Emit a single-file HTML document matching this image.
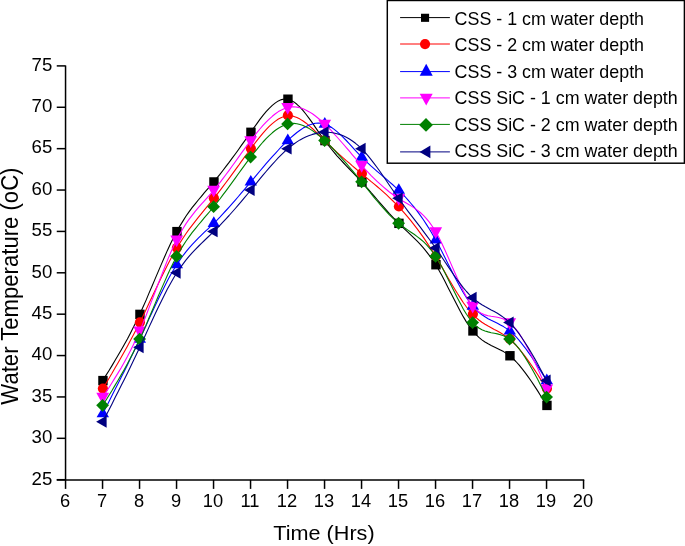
<!DOCTYPE html>
<html><head><meta charset="utf-8"><title>Water Temperature vs Time</title>
<style>
html,body{margin:0;padding:0;background:#fff;}
body{width:685px;height:546px;overflow:hidden;}
svg{display:block;}
text{font-family:"Liberation Sans",sans-serif;fill:#000;}
.tk{font-size:17.6px;}
.lg{font-size:18.6px;}
.tx{font-size:20.3px;}
.ty{font-size:23px;}
</style></head><body>
<svg width="685" height="546" viewBox="0 0 685 546">
<rect width="685" height="546" fill="#fff"/>
<g stroke="#000" stroke-width="1.5" fill="none"><path d="M65.55 65.4V479.9" /><path d="M56.75 479.9H584.25" /><path d="M56.75 479.7H65.55"/><path d="M56.75 438.32H65.55"/><path d="M56.75 396.94H65.55"/><path d="M56.75 355.56H65.55"/><path d="M56.75 314.18H65.55"/><path d="M56.75 272.8H65.55"/><path d="M56.75 231.42H65.55"/><path d="M56.75 190.04H65.55"/><path d="M56.75 148.66H65.55"/><path d="M56.75 107.28H65.55"/><path d="M56.75 65.9H65.55"/><path d="M65.55 479.9V488.9"/><path d="M102.55 479.9V488.9"/><path d="M139.55 479.9V488.9"/><path d="M176.55 479.9V488.9"/><path d="M213.55 479.9V488.9"/><path d="M250.55 479.9V488.9"/><path d="M287.55 479.9V488.9"/><path d="M324.55 479.9V488.9"/><path d="M361.55 479.9V488.9"/><path d="M398.55 479.9V488.9"/><path d="M435.55 479.9V488.9"/><path d="M472.55 479.9V488.9"/><path d="M509.55 479.9V488.9"/><path d="M546.55 479.9V488.9"/><path d="M583.55 479.9V488.9"/></g>
<text class="tk" transform="translate(52.3 484.5) scale(1.06 1)" text-anchor="end">25</text>
<text class="tk" transform="translate(52.3 443.12) scale(1.06 1)" text-anchor="end">30</text>
<text class="tk" transform="translate(52.3 401.74) scale(1.06 1)" text-anchor="end">35</text>
<text class="tk" transform="translate(52.3 360.36) scale(1.06 1)" text-anchor="end">40</text>
<text class="tk" transform="translate(52.3 318.98) scale(1.06 1)" text-anchor="end">45</text>
<text class="tk" transform="translate(52.3 277.6) scale(1.06 1)" text-anchor="end">50</text>
<text class="tk" transform="translate(52.3 236.22) scale(1.06 1)" text-anchor="end">55</text>
<text class="tk" transform="translate(52.3 194.84) scale(1.06 1)" text-anchor="end">60</text>
<text class="tk" transform="translate(52.3 153.46) scale(1.06 1)" text-anchor="end">65</text>
<text class="tk" transform="translate(52.3 112.08) scale(1.06 1)" text-anchor="end">70</text>
<text class="tk" transform="translate(52.3 70.7) scale(1.06 1)" text-anchor="end">75</text>
<text class="tk" transform="translate(65 506.9) scale(1.04 1)" text-anchor="middle">6</text>
<text class="tk" transform="translate(102 506.9) scale(1.04 1)" text-anchor="middle">7</text>
<text class="tk" transform="translate(139 506.9) scale(1.04 1)" text-anchor="middle">8</text>
<text class="tk" transform="translate(176 506.9) scale(1.04 1)" text-anchor="middle">9</text>
<text class="tk" transform="translate(213 506.9) scale(1.04 1)" text-anchor="middle">10</text>
<text class="tk" transform="translate(250 506.9) scale(1.04 1)" text-anchor="middle">11</text>
<text class="tk" transform="translate(287 506.9) scale(1.04 1)" text-anchor="middle">12</text>
<text class="tk" transform="translate(324 506.9) scale(1.04 1)" text-anchor="middle">13</text>
<text class="tk" transform="translate(361 506.9) scale(1.04 1)" text-anchor="middle">14</text>
<text class="tk" transform="translate(398 506.9) scale(1.04 1)" text-anchor="middle">15</text>
<text class="tk" transform="translate(435 506.9) scale(1.04 1)" text-anchor="middle">16</text>
<text class="tk" transform="translate(472 506.9) scale(1.04 1)" text-anchor="middle">17</text>
<text class="tk" transform="translate(509 506.9) scale(1.04 1)" text-anchor="middle">18</text>
<text class="tk" transform="translate(546 506.9) scale(1.04 1)" text-anchor="middle">19</text>
<text class="tk" transform="translate(583 506.9) scale(1.04 1)" text-anchor="middle">20</text>
<text class="tx" transform="translate(324 540.2) scale(1.065 1)" text-anchor="middle">Time (Hrs)</text>
<text class="ty" transform="translate(17.5 286.1) rotate(-90) scale(0.962 1)" text-anchor="middle">Water Temperature (oC)</text>
<polyline points="102.7,380.6 105.8,375.6 108.9,370.7 112.0,365.6 115.0,360.5 118.1,355.3 121.2,350.0 124.3,344.6 127.4,339.0 130.4,333.2 133.5,327.1 136.6,320.9 139.7,314.4 142.8,307.6 145.9,300.6 148.9,293.4 152.0,286.2 155.1,278.9 158.2,271.6 161.3,264.4 164.4,257.3 167.4,250.4 170.5,243.8 173.6,237.5 176.7,231.6 179.8,226.1 182.9,221.1 185.9,216.3 189.0,211.9 192.1,207.7 195.2,203.8 198.3,200.0 201.4,196.3 204.4,192.7 207.5,189.2 210.6,185.6 213.7,182.0 216.8,178.2 219.9,174.4 222.9,170.5 226.0,166.4 229.1,162.4 232.2,158.2 235.3,154.0 238.4,149.7 241.4,145.4 244.5,141.1 247.6,136.7 250.7,132.3 253.8,127.9 256.9,123.6 259.9,119.4 263.0,115.4 266.1,111.7 269.2,108.3 272.3,105.4 275.4,102.9 278.4,100.9 281.5,99.6 284.6,99.0 287.7,99.2 290.8,100.2 293.9,101.9 296.9,104.3 300.0,107.2 303.1,110.6 306.2,114.5 309.3,118.6 312.4,122.9 315.4,127.4 318.5,131.9 321.6,136.3 324.7,140.6 327.8,144.7 330.9,148.5 333.9,152.2 337.0,155.8 340.1,159.2 343.2,162.5 346.3,165.8 349.4,169.0 352.4,172.2 355.5,175.4 358.6,178.7 361.7,182.0 364.8,185.4 367.9,188.8 370.9,192.4 374.0,195.9 377.1,199.5 380.2,203.1 383.3,206.6 386.4,210.1 389.4,213.6 392.5,216.9 395.6,220.2 398.7,223.3 401.8,226.4 404.9,229.3 407.9,232.2 411.0,235.1 414.1,238.1 417.2,241.2 420.3,244.4 423.4,247.9 426.4,251.6 429.5,255.6 432.6,259.9 435.7,264.7 438.8,269.9 441.9,275.5 444.9,281.3 448.0,287.4 451.1,293.5 454.2,299.6 457.3,305.6 460.4,311.4 463.4,316.9 466.5,322.1 469.6,326.8 472.7,330.9 475.8,334.4 478.9,337.4 481.9,339.9 485.0,342.0 488.1,343.8 491.2,345.4 494.3,346.9 497.4,348.4 500.4,349.9 503.5,351.6 506.6,353.5 509.7,355.8 512.8,358.4 515.9,361.5 519.0,364.9 522.0,368.6 525.1,372.6 528.2,376.8 531.3,381.2 534.4,385.9 537.5,390.6 540.5,395.5 543.6,400.4 546.7,405.4" fill="none" stroke="#000000" stroke-width="1.1" stroke-linejoin="round"/>
<g><rect x="98.25" y="375.89" width="9.4" height="9.4" fill="#000000"/><rect x="135.25" y="309.68" width="9.4" height="9.4" fill="#000000"/><rect x="172.25" y="226.92" width="9.4" height="9.4" fill="#000000"/><rect x="209.25" y="177.26" width="9.4" height="9.4" fill="#000000"/><rect x="246.25" y="127.61" width="9.4" height="9.4" fill="#000000"/><rect x="283.25" y="94.5" width="9.4" height="9.4" fill="#000000"/><rect x="320.25" y="135.88" width="9.4" height="9.4" fill="#000000"/><rect x="357.25" y="177.26" width="9.4" height="9.4" fill="#000000"/><rect x="394.25" y="218.64" width="9.4" height="9.4" fill="#000000"/><rect x="431.25" y="260.02" width="9.4" height="9.4" fill="#000000"/><rect x="468.25" y="326.23" width="9.4" height="9.4" fill="#000000"/><rect x="505.25" y="351.06" width="9.4" height="9.4" fill="#000000"/><rect x="542.25" y="400.72" width="9.4" height="9.4" fill="#000000"/></g>
<polyline points="102.7,388.9 105.8,383.7 108.9,378.5 112.0,373.3 115.0,368.0 118.1,362.7 121.2,357.3 124.3,351.8 127.4,346.2 130.4,340.5 133.5,334.7 136.6,328.8 139.7,322.7 142.8,316.4 145.9,310.0 148.9,303.5 152.0,297.0 155.1,290.5 158.2,284.0 161.3,277.6 164.4,271.3 167.4,265.2 170.5,259.3 173.6,253.6 176.7,248.2 179.8,243.1 182.9,238.3 185.9,233.7 189.0,229.4 192.1,225.3 195.2,221.3 198.3,217.4 201.4,213.6 204.4,209.8 207.5,206.1 210.6,202.3 213.7,198.5 216.8,194.6 219.9,190.6 222.9,186.6 226.0,182.5 229.1,178.3 232.2,174.1 235.3,169.9 238.4,165.7 241.4,161.4 244.5,157.2 247.6,153.0 250.7,148.9 253.8,144.7 256.9,140.7 259.9,136.8 263.0,133.1 266.1,129.6 269.2,126.4 272.3,123.6 275.4,121.1 278.4,119.0 281.5,117.4 284.6,116.3 287.7,115.8 290.8,115.8 293.9,116.4 296.9,117.5 300.0,119.1 303.1,121.0 306.2,123.2 309.3,125.8 312.4,128.5 315.4,131.4 318.5,134.5 321.6,137.5 324.7,140.6 327.8,143.6 330.9,146.5 333.9,149.4 337.0,152.3 340.1,155.1 343.2,157.8 346.3,160.6 349.4,163.2 352.4,165.9 355.5,168.5 358.6,171.1 361.7,173.7 364.8,176.2 367.9,178.8 370.9,181.4 374.0,183.9 377.1,186.5 380.2,189.2 383.3,191.9 386.4,194.7 389.4,197.6 392.5,200.5 395.6,203.6 398.7,206.8 401.8,210.1 404.9,213.6 407.9,217.2 411.0,220.9 414.1,224.8 417.2,228.9 420.3,233.1 423.4,237.4 426.4,241.9 429.5,246.6 432.6,251.4 435.7,256.4 438.8,261.6 441.9,266.9 444.9,272.3 448.0,277.7 451.1,283.0 454.2,288.2 457.3,293.3 460.4,298.1 463.4,302.7 466.5,307.0 469.6,310.9 472.7,314.4 475.8,317.4 478.9,320.0 481.9,322.3 485.0,324.3 488.1,326.1 491.2,327.7 494.3,329.4 497.4,331.0 500.4,332.7 503.5,334.6 506.6,336.8 509.7,339.2 512.8,342.0 515.9,345.2 519.0,348.6 522.0,352.4 525.1,356.4 528.2,360.6 531.3,365.0 534.4,369.6 537.5,374.3 540.5,379.1 543.6,384.0 546.7,388.9" fill="none" stroke="#ff0000" stroke-width="1.1" stroke-linejoin="round"/>
<g><circle cx="102.9" cy="388.56" r="5.1" fill="#ff0000"/><circle cx="139.9" cy="322.36" r="5.1" fill="#ff0000"/><circle cx="176.9" cy="247.87" r="5.1" fill="#ff0000"/><circle cx="213.9" cy="198.22" r="5.1" fill="#ff0000"/><circle cx="250.9" cy="148.56" r="5.1" fill="#ff0000"/><circle cx="287.9" cy="115.46" r="5.1" fill="#ff0000"/><circle cx="324.9" cy="140.28" r="5.1" fill="#ff0000"/><circle cx="361.9" cy="173.39" r="5.1" fill="#ff0000"/><circle cx="398.9" cy="206.49" r="5.1" fill="#ff0000"/><circle cx="435.9" cy="256.15" r="5.1" fill="#ff0000"/><circle cx="472.9" cy="314.08" r="5.1" fill="#ff0000"/><circle cx="509.9" cy="338.91" r="5.1" fill="#ff0000"/><circle cx="546.9" cy="388.56" r="5.1" fill="#ff0000"/></g>
<polyline points="102.7,413.7 105.8,407.7 108.9,401.7 112.0,395.6 115.0,389.6 118.1,383.5 121.2,377.3 124.3,371.2 127.4,364.9 130.4,358.6 133.5,352.2 136.6,345.8 139.7,339.2 142.8,332.6 145.9,325.9 148.9,319.1 152.0,312.5 155.1,305.8 158.2,299.3 161.3,292.9 164.4,286.8 167.4,280.8 170.5,275.1 173.6,269.7 176.7,264.7 179.8,260.1 182.9,255.8 185.9,251.8 189.0,248.1 192.1,244.6 195.2,241.4 198.3,238.2 201.4,235.2 204.4,232.2 207.5,229.3 210.6,226.3 213.7,223.3 216.8,220.3 219.9,217.1 222.9,213.8 226.0,210.5 229.1,207.1 232.2,203.6 235.3,200.1 238.4,196.5 241.4,192.9 244.5,189.3 247.6,185.6 250.7,182.0 253.8,178.3 256.9,174.6 259.9,171.0 263.0,167.3 266.1,163.7 269.2,160.2 272.3,156.7 275.4,153.3 278.4,150.0 281.5,146.7 284.6,143.6 287.7,140.6 290.8,137.7 293.9,135.0 296.9,132.5 300.0,130.2 303.1,128.1 306.2,126.4 309.3,125.0 312.4,123.9 315.4,123.3 318.5,123.1 321.6,123.3 324.7,124.0 327.8,125.3 330.9,127.0 333.9,129.1 337.0,131.6 340.1,134.3 343.2,137.3 346.3,140.5 349.4,143.8 352.4,147.2 355.5,150.6 358.6,153.9 361.7,157.1 364.8,160.2 367.9,163.1 370.9,165.9 374.0,168.6 377.1,171.3 380.2,173.9 383.3,176.5 386.4,179.1 389.4,181.8 392.5,184.5 395.6,187.3 398.7,190.2 401.8,193.3 404.9,196.5 407.9,199.9 411.0,203.5 414.1,207.2 417.2,211.2 420.3,215.4 423.4,219.8 426.4,224.4 429.5,229.3 432.6,234.5 435.7,239.9 438.8,245.6 441.9,251.5 444.9,257.6 448.0,263.7 451.1,269.8 454.2,275.9 457.3,281.7 460.4,287.4 463.4,292.7 466.5,297.6 469.6,302.1 472.7,306.1 475.8,309.5 478.9,312.3 481.9,314.8 485.0,316.8 488.1,318.7 491.2,320.3 494.3,321.8 497.4,323.3 500.4,324.9 503.5,326.6 506.6,328.6 509.7,330.9 512.8,333.6 515.9,336.7 519.0,340.1 522.0,343.8 525.1,347.8 528.2,352.1 531.3,356.5 534.4,361.1 537.5,365.9 540.5,370.7 543.6,375.6 546.7,380.6" fill="none" stroke="#0000ff" stroke-width="1.1" stroke-linejoin="round"/>
<g><path d="M102.8 406.69L109 417.29L96.6 417.29Z" fill="#0000ff"/><path d="M139.8 332.21L146 342.81L133.6 342.81Z" fill="#0000ff"/><path d="M176.8 257.72L183 268.32L170.6 268.32Z" fill="#0000ff"/><path d="M213.8 216.34L220 226.94L207.6 226.94Z" fill="#0000ff"/><path d="M250.8 174.96L257 185.56L244.6 185.56Z" fill="#0000ff"/><path d="M287.8 133.58L294 144.18L281.6 144.18Z" fill="#0000ff"/><path d="M324.8 117.03L331 127.63L318.6 127.63Z" fill="#0000ff"/><path d="M361.8 150.14L368 160.74L355.6 160.74Z" fill="#0000ff"/><path d="M398.8 183.24L405 193.84L392.6 193.84Z" fill="#0000ff"/><path d="M435.8 232.9L442 243.5L429.6 243.5Z" fill="#0000ff"/><path d="M472.8 299.1L479 309.7L466.6 309.7Z" fill="#0000ff"/><path d="M509.8 323.93L516 334.53L503.6 334.53Z" fill="#0000ff"/><path d="M546.8 373.59L553 384.19L540.6 384.19Z" fill="#0000ff"/></g>
<polyline points="102.7,397.1 105.8,392.4 108.9,387.7 112.0,382.8 115.0,377.9 118.1,372.9 121.2,367.7 124.3,362.2 127.4,356.6 130.4,350.7 133.5,344.4 136.6,337.9 139.7,330.9 142.8,323.6 145.9,316.0 148.9,308.1 152.0,300.1 155.1,292.0 158.2,283.9 161.3,275.9 164.4,268.0 167.4,260.4 170.5,253.1 173.6,246.3 176.7,239.9 179.8,234.1 182.9,228.8 185.9,223.9 189.0,219.4 192.1,215.3 195.2,211.4 198.3,207.7 201.4,204.2 204.4,200.8 207.5,197.3 210.6,193.8 213.7,190.2 216.8,186.5 219.9,182.6 222.9,178.6 226.0,174.5 229.1,170.3 232.2,166.0 235.3,161.7 238.4,157.4 241.4,153.1 244.5,148.9 247.6,144.7 250.7,140.6 253.8,136.6 256.9,132.7 259.9,129.0 263.0,125.4 266.1,122.1 269.2,119.1 272.3,116.3 275.4,113.8 278.4,111.6 281.5,109.9 284.6,108.5 287.7,107.5 290.8,106.9 293.9,106.8 296.9,107.1 300.0,107.8 303.1,108.8 306.2,110.2 309.3,111.9 312.4,113.8 315.4,116.0 318.5,118.5 321.6,121.2 324.7,124.0 327.8,127.1 330.9,130.2 333.9,133.6 337.0,137.0 340.1,140.5 343.2,144.0 346.3,147.6 349.4,151.2 352.4,154.8 355.5,158.4 358.6,161.9 361.7,165.4 364.8,168.8 367.9,172.1 370.9,175.3 374.0,178.3 377.1,181.3 380.2,184.2 383.3,186.9 386.4,189.5 389.4,192.0 392.5,194.3 395.6,196.5 398.7,198.5 401.8,200.4 404.9,202.2 407.9,204.0 411.0,205.9 414.1,207.9 417.2,210.1 420.3,212.5 423.4,215.4 426.4,218.6 429.5,222.4 432.6,226.7 435.7,231.6 438.8,237.3 441.9,243.5 444.9,250.1 448.0,257.0 451.1,264.1 454.2,271.2 457.3,278.2 460.4,284.8 463.4,291.1 466.5,296.9 469.6,301.9 472.7,306.1 475.8,309.4 478.9,311.8 481.9,313.6 485.0,314.9 488.1,315.7 491.2,316.3 494.3,316.8 497.4,317.3 500.4,318.0 503.5,319.0 506.6,320.5 509.7,322.7 512.8,325.5 515.9,329.0 519.0,333.2 522.0,338.0 525.1,343.2 528.2,348.9 531.3,355.0 534.4,361.4 537.5,368.0 540.5,374.9 543.6,381.8 546.7,388.9" fill="none" stroke="#ff00ff" stroke-width="1.1" stroke-linejoin="round"/>
<g><path d="M102.7 404.44L109.1 392.74L96.3 392.74Z" fill="#ff00ff"/><path d="M139.7 338.23L146.1 326.53L133.3 326.53Z" fill="#ff00ff"/><path d="M176.7 247.2L183.1 235.5L170.3 235.5Z" fill="#ff00ff"/><path d="M213.7 197.54L220.1 185.84L207.3 185.84Z" fill="#ff00ff"/><path d="M250.7 147.88L257.1 136.18L244.3 136.18Z" fill="#ff00ff"/><path d="M287.7 114.78L294.1 103.08L281.3 103.08Z" fill="#ff00ff"/><path d="M324.7 131.33L331.1 119.63L318.3 119.63Z" fill="#ff00ff"/><path d="M361.7 172.71L368.1 161.01L355.3 161.01Z" fill="#ff00ff"/><path d="M398.7 205.82L405.1 194.12L392.3 194.12Z" fill="#ff00ff"/><path d="M435.7 238.92L442.1 227.22L429.3 227.22Z" fill="#ff00ff"/><path d="M472.7 313.4L479.1 301.7L466.3 301.7Z" fill="#ff00ff"/><path d="M509.7 329.96L516.1 318.26L503.3 318.26Z" fill="#ff00ff"/><path d="M546.7 396.16L553.1 384.46L540.3 384.46Z" fill="#ff00ff"/></g>
<polyline points="102.7,405.4 105.8,400.5 108.9,395.5 112.0,390.5 115.0,385.4 118.1,380.2 121.2,374.9 124.3,369.4 127.4,363.8 130.4,358.0 133.5,352.0 136.6,345.7 139.7,339.2 142.8,332.4 145.9,325.4 148.9,318.2 152.0,311.0 155.1,303.6 158.2,296.3 161.3,289.1 164.4,282.1 167.4,275.2 170.5,268.6 173.6,262.3 176.7,256.4 179.8,251.0 182.9,245.9 185.9,241.3 189.0,236.9 192.1,232.7 195.2,228.8 198.3,225.0 201.4,221.3 204.4,217.7 207.5,214.1 210.6,210.5 213.7,206.8 216.8,202.9 219.9,199.0 222.9,194.9 226.0,190.8 229.1,186.6 232.2,182.4 235.3,178.1 238.4,173.8 241.4,169.6 244.5,165.4 247.6,161.2 250.7,157.1 253.8,153.1 256.9,149.3 259.9,145.6 263.0,142.0 266.1,138.7 269.2,135.6 272.3,132.8 275.4,130.3 278.4,128.2 281.5,126.4 284.6,125.0 287.7,124.0 290.8,123.5 293.9,123.4 296.9,123.8 300.0,124.5 303.1,125.5 306.2,126.9 309.3,128.6 312.4,130.6 315.4,132.8 318.5,135.2 321.6,137.8 324.7,140.6 327.8,143.5 330.9,146.5 333.9,149.7 337.0,153.0 340.1,156.3 343.2,159.8 346.3,163.3 349.4,167.0 352.4,170.6 355.5,174.4 358.6,178.1 361.7,182.0 364.8,185.8 367.9,189.7 370.9,193.5 374.0,197.3 377.1,201.0 380.2,204.6 383.3,208.2 386.4,211.5 389.4,214.8 392.5,217.8 395.6,220.7 398.7,223.3 401.8,225.7 404.9,228.0 407.9,230.1 411.0,232.2 414.1,234.3 417.2,236.6 420.3,239.0 423.4,241.7 426.4,244.7 429.5,248.1 432.6,252.0 435.7,256.4 438.8,261.5 441.9,267.0 444.9,272.8 448.0,279.0 451.1,285.2 454.2,291.5 457.3,297.7 460.4,303.6 463.4,309.2 466.5,314.3 469.6,318.8 472.7,322.7 475.8,325.7 478.9,328.0 481.9,329.7 485.0,331.0 488.1,331.9 491.2,332.7 494.3,333.3 497.4,333.9 500.4,334.7 503.5,335.8 506.6,337.2 509.7,339.2 512.8,341.8 515.9,345.0 519.0,348.7 522.0,352.8 525.1,357.4 528.2,362.4 531.3,367.7 534.4,373.3 537.5,379.1 540.5,385.0 543.6,391.0 546.7,397.1" fill="none" stroke="#008000" stroke-width="1.1" stroke-linejoin="round"/>
<g><path d="M102.6 398.92L109 405.32L102.6 411.72L96.2 405.32Z" fill="#008000"/><path d="M139.6 332.71L146 339.11L139.6 345.51L133.2 339.11Z" fill="#008000"/><path d="M176.6 249.95L183 256.35L176.6 262.75L170.2 256.35Z" fill="#008000"/><path d="M213.6 200.29L220 206.69L213.6 213.09L207.2 206.69Z" fill="#008000"/><path d="M250.6 150.64L257 157.04L250.6 163.44L244.2 157.04Z" fill="#008000"/><path d="M287.6 117.53L294 123.93L287.6 130.33L281.2 123.93Z" fill="#008000"/><path d="M324.6 134.08L331 140.48L324.6 146.88L318.2 140.48Z" fill="#008000"/><path d="M361.6 175.46L368 181.86L361.6 188.26L355.2 181.86Z" fill="#008000"/><path d="M398.6 216.84L405 223.24L398.6 229.64L392.2 223.24Z" fill="#008000"/><path d="M435.6 249.95L442 256.35L435.6 262.75L429.2 256.35Z" fill="#008000"/><path d="M472.6 316.16L479 322.56L472.6 328.96L466.2 322.56Z" fill="#008000"/><path d="M509.6 332.71L516 339.11L509.6 345.51L503.2 339.11Z" fill="#008000"/><path d="M546.6 390.64L553 397.04L546.6 403.44L540.2 397.04Z" fill="#008000"/></g>
<polyline points="102.7,422.0 105.8,416.0 108.9,409.9 112.0,403.9 115.0,397.8 118.1,391.7 121.2,385.6 124.3,379.4 127.4,373.2 130.4,366.9 133.5,360.5 136.6,354.0 139.7,347.5 142.8,340.8 145.9,334.1 148.9,327.4 152.0,320.7 155.1,314.1 158.2,307.6 161.3,301.2 164.4,295.0 167.4,289.1 170.5,283.4 173.6,278.0 176.7,273.0 179.8,268.4 182.9,264.1 185.9,260.1 189.0,256.4 192.1,252.9 195.2,249.6 198.3,246.5 201.4,243.4 204.4,240.5 207.5,237.5 210.6,234.6 213.7,231.6 216.8,228.6 219.9,225.4 222.9,222.2 226.0,218.8 229.1,215.5 232.2,212.0 235.3,208.5 238.4,204.9 241.4,201.3 244.5,197.7 247.6,194.0 250.7,190.2 253.8,186.5 256.9,182.7 259.9,178.9 263.0,175.2 266.1,171.5 269.2,167.9 272.3,164.4 275.4,161.0 278.4,157.7 281.5,154.6 284.6,151.6 287.7,148.9 290.8,146.3 293.9,144.0 296.9,141.9 300.0,139.9 303.1,138.2 306.2,136.8 309.3,135.5 312.4,134.4 315.4,133.6 318.5,132.9 321.6,132.5 324.7,132.3 327.8,132.3 330.9,132.5 333.9,133.0 337.0,133.7 340.1,134.6 343.2,135.8 346.3,137.3 349.4,139.0 352.4,141.0 355.5,143.3 358.6,145.9 361.7,148.9 364.8,152.1 367.9,155.6 370.9,159.4 374.0,163.4 377.1,167.5 380.2,171.8 383.3,176.2 386.4,180.7 389.4,185.2 392.5,189.7 395.6,194.1 398.7,198.5 401.8,202.8 404.9,207.0 407.9,211.1 411.0,215.2 414.1,219.2 417.2,223.2 420.3,227.2 423.4,231.3 426.4,235.4 429.5,239.5 432.6,243.8 435.7,248.2 438.8,252.7 441.9,257.2 444.9,261.8 448.0,266.4 451.1,271.0 454.2,275.5 457.3,279.8 460.4,283.9 463.4,287.9 466.5,291.5 469.6,294.8 472.7,297.8 475.8,300.4 478.9,302.7 481.9,304.7 485.0,306.5 488.1,308.2 491.2,309.9 494.3,311.5 497.4,313.3 500.4,315.2 503.5,317.4 506.6,319.8 509.7,322.7 512.8,325.9 515.9,329.6 519.0,333.6 522.0,338.0 525.1,342.7 528.2,347.6 531.3,352.8 534.4,358.1 537.5,363.6 540.5,369.2 543.6,374.9 546.7,380.6" fill="none" stroke="#000080" stroke-width="1.1" stroke-linejoin="round"/>
<g><path d="M96.1 421.77L106.6 415.87L106.6 427.67Z" fill="#000080"/><path d="M133.1 347.28L143.6 341.38L143.6 353.18Z" fill="#000080"/><path d="M170.1 272.8L180.6 266.9L180.6 278.7Z" fill="#000080"/><path d="M207.1 231.42L217.6 225.52L217.6 237.32Z" fill="#000080"/><path d="M244.1 190.04L254.6 184.14L254.6 195.94Z" fill="#000080"/><path d="M281.1 148.66L291.6 142.76L291.6 154.56Z" fill="#000080"/><path d="M318.1 132.11L328.6 126.21L328.6 138.01Z" fill="#000080"/><path d="M355.1 148.66L365.6 142.76L365.6 154.56Z" fill="#000080"/><path d="M392.1 198.32L402.6 192.42L402.6 204.22Z" fill="#000080"/><path d="M429.1 247.97L439.6 242.07L439.6 253.87Z" fill="#000080"/><path d="M466.1 297.63L476.6 291.73L476.6 303.53Z" fill="#000080"/><path d="M503.1 322.46L513.6 316.56L513.6 328.36Z" fill="#000080"/><path d="M540.1 380.39L550.6 374.49L550.6 386.29Z" fill="#000080"/></g>
<rect x="387.3" y="0.5" width="297.1" height="162.7" fill="#fff" stroke="#000" stroke-width="1.45"/>
<path d="M400.1 17.6H449.9" stroke="#000000" stroke-width="1"/>
<rect x="421" y="13.75" width="8.1" height="8.1" fill="#000000"/>
<text class="lg" transform="translate(454.6 25) scale(0.96 1)">CSS - 1 cm water depth</text>
<path d="M400.1 44.0H449.9" stroke="#ff0000" stroke-width="1"/>
<circle cx="425.05" cy="44.1" r="5.1" fill="#ff0000"/>
<text class="lg" transform="translate(454.6 51.45) scale(0.96 1)">CSS - 2 cm water depth</text>
<path d="M400.1 71.6H449.9" stroke="#0000ff" stroke-width="1"/>
<path d="M426.2 63.7L432.7 75.7L419.7 75.7Z" fill="#0000ff"/>
<text class="lg" transform="translate(454.6 77.9) scale(0.96 1)">CSS - 3 cm water depth</text>
<path d="M400.1 97.9H449.9" stroke="#ff00ff" stroke-width="1"/>
<path d="M426.2 105.4L432.7 93.8L419.7 93.8Z" fill="#ff00ff"/>
<text class="lg" transform="translate(454.6 104.35) scale(0.96 1)">CSS SiC - 1 cm water depth</text>
<path d="M400.1 124.4H449.9" stroke="#008000" stroke-width="1"/>
<path d="M426 118L432.9 124.9L426 131.8L419.1 124.9Z" fill="#008000"/>
<text class="lg" transform="translate(454.6 130.8) scale(0.96 1)">CSS SiC - 2 cm water depth</text>
<path d="M400.1 151.9H449.9" stroke="#000080" stroke-width="1"/>
<path d="M419.6 151.9L430.4 145.5L430.4 158.3Z" fill="#000080"/>
<text class="lg" transform="translate(454.6 157.25) scale(0.96 1)">CSS SiC - 3 cm water depth</text>
</svg></body></html>
